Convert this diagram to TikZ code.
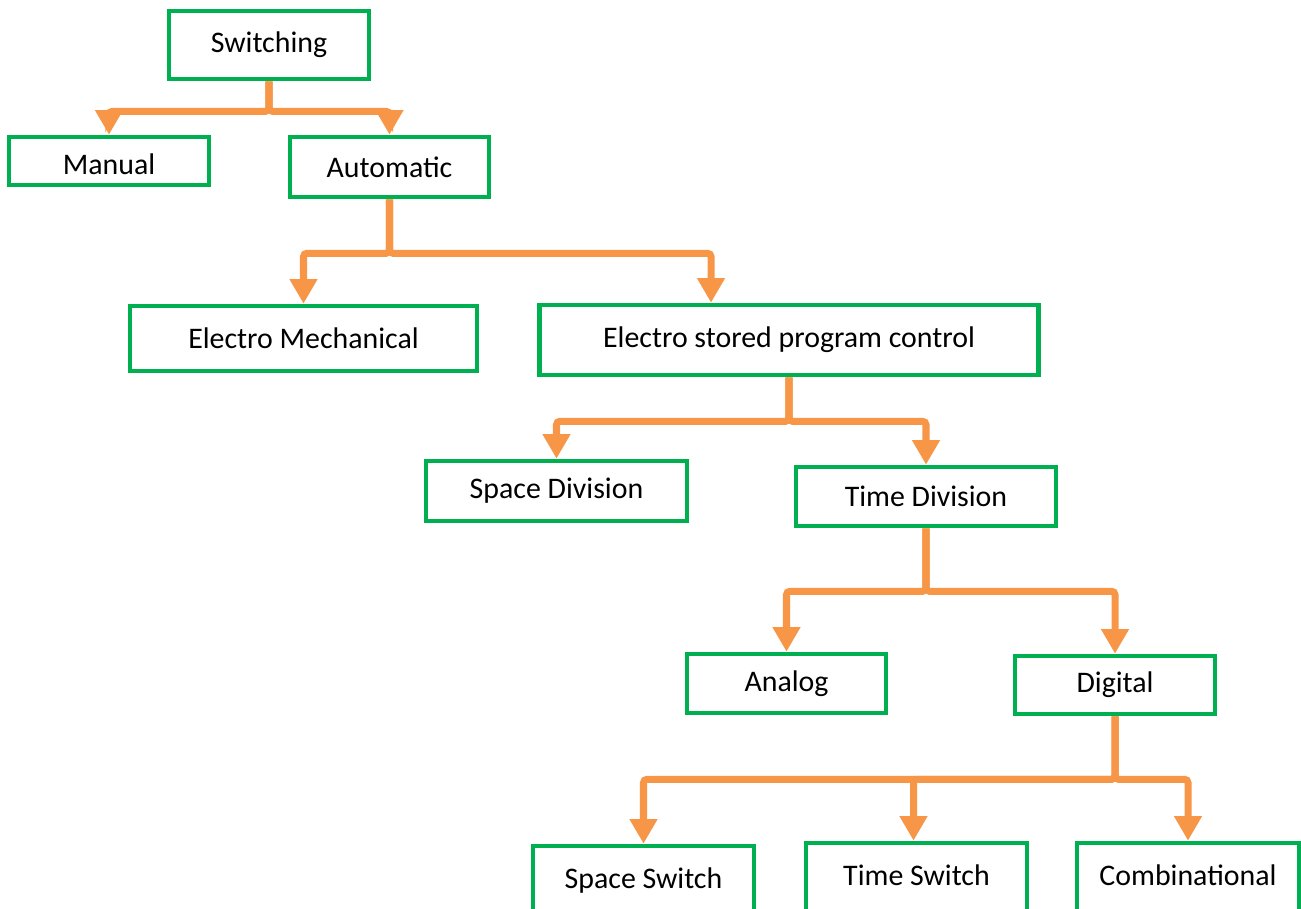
\documentclass[tikz,border=0pt]{standalone}
\usepackage{fontspec}
\setmainfont{Carlito}
\usepackage{tikz}
\usetikzlibrary{arrows.meta}
\definecolor{boxgreen}{RGB}{0,176,80}
\definecolor{linkorange}{RGB}{247,150,70}
\tikzset{box/.style={draw=boxgreen, line width=2.6pt, fill=white, inner sep=0pt, font=\fontsize{17}{17}\selectfont}}
\tikzset{lowbox/.style={box, anchor=base, text height=0.84cm, text depth=0.8cm}}
\tikzset{link/.style={draw=linkorange, line width=4pt, rounded corners=2pt, -{Triangle[width=15pt,length=14pt]}}}

\begin{document}
\begin{tikzpicture}[x=0.02cm,y=-0.02cm]
        \useasboundingbox (0,0) rectangle (1301,909);
        \clip (0,0) rectangle (1301,909);
        \node[box, minimum width=4.0cm, minimum height=1.36cm] (sw) at (269,45) {Switching};
        \node[box, anchor=base, minimum width=4.0cm, text height=0.74cm, text depth=0.22cm] (man) at (109,174) {Manual};
        \node[box, minimum width=3.98cm, minimum height=1.2cm] (auto) at (389.5,167) {Automatic};
        \node[box, minimum width=6.94cm, minimum height=1.3cm] (em) at (303.5,338.5) {Electro Mechanical};
        \node[box, minimum width=9.98cm, minimum height=1.4cm] (espc) at (789,340) {Electro stored program control};
        \node[box, minimum width=5.22cm, minimum height=1.2cm] (sd) at (556.5,491) {Space Division};
        \node[box, minimum width=5.2cm, minimum height=1.18cm] (td) at (926,496.5) {Time Division};
        \node[box, minimum width=3.98cm, minimum height=1.18cm] (ana) at (786.5,683.5) {Analog};
        \node[box, minimum width=4.0cm, minimum height=1.16cm] (dig) at (1115,685) {Digital};
        \node[lowbox, minimum width=4.42cm] (ss) at (643.5,888) {Space Switch};
        \node[lowbox, minimum width=4.42cm] (ts) at (916.5,885) {Time Switch};
        \node[lowbox, minimum width=4.44cm] (comb) at (1188,885) {Combinational};
        % connectors
        \draw[link] (sw.south) -- ++(0,30) -| (man.north);
        \draw[link] (sw.south) -- ++(0,30) -| (auto.north);
        \draw[link] (auto.south) -- ++(0,54) -| (em.north);
        \draw[link] (auto.south) -- ++(0,54) -| ([xshift=-1.56cm]espc.north);
        \draw[link] (espc.south) -- ++(0,44) -| (sd.north);
        \draw[link] (espc.south) -- ++(0,44) -| (td.north);
        \draw[link] (td.south) -- ++(0,63) -| (ana.north);
        \draw[link] (td.south) -- ++(0,63) -| (dig.north);
        \draw[link] (dig.south) -- ++(0,63) -| (ss.north);
        \draw[link] (dig.south) -- ++(0,63) -| ([xshift=-0.06cm]ts.north);
        \draw[link] (dig.south) -- ++(0,63) -| (comb.north);
      \end{tikzpicture}
\end{document}
